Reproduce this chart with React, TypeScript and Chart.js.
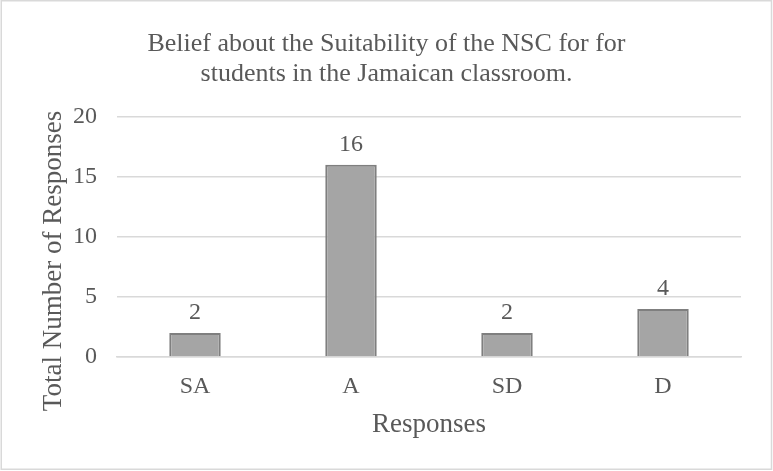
import React, { useEffect, useRef } from "react";
import { Chart, registerables } from "chart.js";

Chart.register(...registerables);

const categories = ["SA", "A", "SD", "D"];
const responseCounts = [2, 16, 2, 4];
const yTicks = [0, 5, 10, 15, 20];
const titleLines = [
  "Belief about the Suitability of the NSC for for",
  "students in the Jamaican classroom.",
];
const xAxisTitle = "Responses";
const yAxisTitle = "Total Number of Responses";

const FONT = "'Liberation Serif', 'Times New Roman', serif";
const TEXT = "#595959";

// White background plus the thin grey frame around the whole chart
const frame = {
  id: "frame",
  beforeDraw(chart: any) {
    const { ctx, width, height } = chart;
    ctx.save();
    ctx.fillStyle = "#ffffff";
    ctx.fillRect(0, 0, width, height);
    ctx.strokeStyle = "#d9d9d9";
    ctx.lineWidth = 1.5;
    ctx.strokeRect(1.25, 0.75, width - 2.75, height - 2.5);
    ctx.restore();
  },
};

// Vertical axis title, set slightly below the plot's midline
const yTitle = {
  id: "yTitle",
  afterDraw(chart: any) {
    const { ctx } = chart;
    ctx.save();
    ctx.translate(54, 261);
    ctx.rotate(-Math.PI / 2);
    ctx.font = `27px ${FONT}`;
    ctx.fillStyle = TEXT;
    ctx.textAlign = "center";
    ctx.textBaseline = "middle";
    ctx.fillText(yAxisTitle, 0, 0);
    ctx.restore();
  },
};

// Count printed above each bar
const valueLabels = {
  id: "valueLabels",
  afterDatasetsDraw(chart: any) {
    const { ctx } = chart;
    const meta = chart.getDatasetMeta(0);
    const values = chart.data.datasets[0].data;
    ctx.save();
    ctx.font = `24px ${FONT}`;
    ctx.fillStyle = TEXT;
    ctx.textAlign = "center";
    ctx.textBaseline = "middle";
    meta.data.forEach((bar: any, i: number) => {
      ctx.fillText(String(values[i]), bar.x, bar.y - 20);
    });
    ctx.restore();
  },
};

export default function App() {
  const ref = useRef<HTMLCanvasElement>(null);

  useEffect(() => {
    if (!ref.current) return;
    const chart = new Chart(ref.current, {
      type: "bar",
      data: {
        labels: categories,
        datasets: [
          {
            data: responseCounts,
            backgroundColor: "#a5a5a5",
            borderColor: "#7f7f7f",
            borderWidth: 2,
            categoryPercentage: 1,
            barPercentage: 0.33,
          },
        ],
      },
      options: {
        animation: false,
        responsive: false,
        layout: { padding: { left: 32, right: 32, top: 0, bottom: 0 } },
        plugins: {
          legend: { display: false },
          tooltip: { enabled: false },
          title: {
            display: true,
            text: titleLines,
            color: TEXT,
            font: { family: FONT, size: 26, weight: "normal", lineHeight: 1.15 },
            padding: { top: 29, bottom: 28 },
          },
        },
        scales: {
          x: {
            grid: { display: false, drawTicks: false },
            border: { display: true, color: "#d9d9d9", width: 1.5 },
            ticks: {
              color: TEXT,
              font: { family: FONT, size: 24 },
              padding: 15,
            },
            title: {
              display: true,
              text: xAxisTitle,
              color: TEXT,
              font: { family: FONT, size: 27 },
              padding: { top: 0, bottom: 30 },
            },
            afterFit(scale: any) {
              scale.height = 114;
            },
          },
          y: {
            min: 0,
            max: 20,
            afterBuildTicks(scale: any) {
              scale.ticks = yTicks.map((v) => ({ value: v }));
            },
            grid: { color: "#d9d9d9", lineWidth: 1.5, drawTicks: false },
            border: { display: false },
            ticks: {
              color: TEXT,
              font: { family: FONT, size: 24 },
              padding: 20,
            },
            afterFit(scale: any) {
              scale.width = 117 - 32;
            },
          },
        },
      },
      plugins: [frame, valueLabels, yTitle],
    });
    return () => chart.destroy();
  }, []);

  return (
    <div style={{ position: "fixed", left: 0, top: 0, width: 773, height: 471 }}>
      <canvas ref={ref} width={773} height={471} />
    </div>
  );
}
